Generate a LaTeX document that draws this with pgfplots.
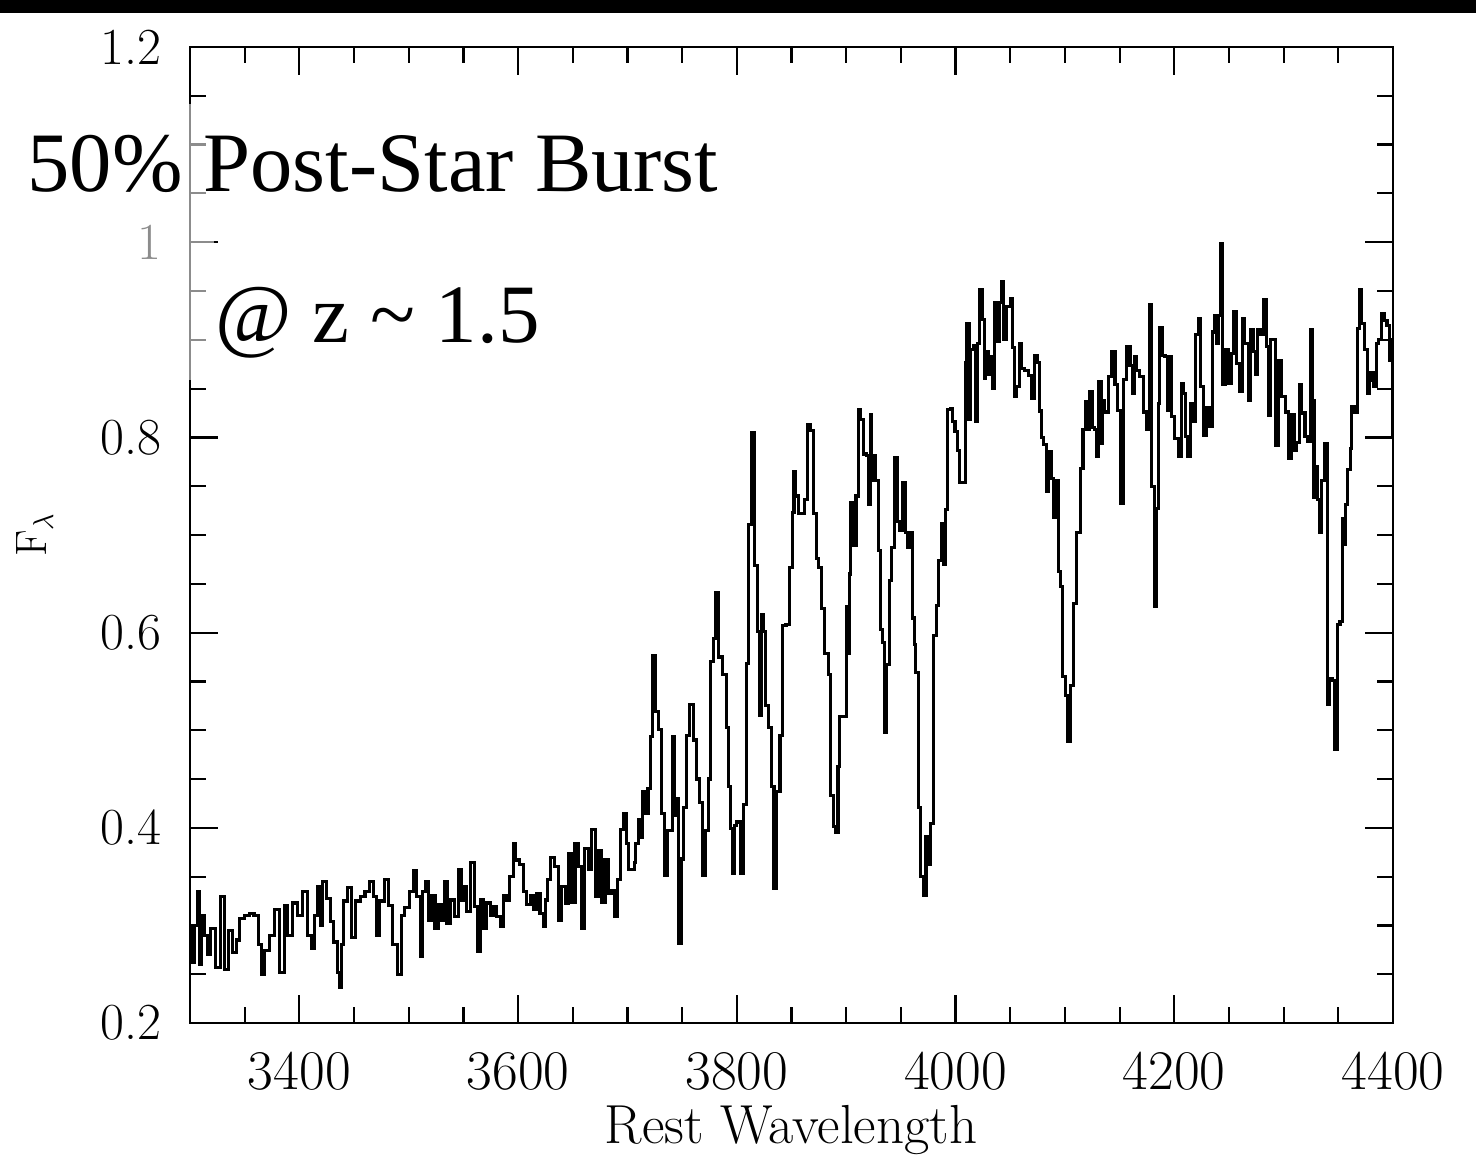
\documentclass[border=0pt]{standalone}
\usepackage{fontspec}
\usepackage{pgfplots}
\usepackage{pgfplotstable}
\pgfplotsset{compat=1.18}
\newfontfamily\timesfont{Liberation Serif}

\pgfplotstableread{
lam F
3300 0.270
3302 0.300
3303 0.262
3306 0.300
3308 0.335
3309.5 0.260
3312 0.310
3315 0.290
3317 0.270
3321 0.297
3326 0.257
3330 0.330
3333.5 0.255
3336.5 0.295
3341 0.272
3344 0.285
3347 0.307
3352 0.310
3356 0.312
3361 0.310
3364 0.280
3367 0.250
3370 0.274
3375 0.290
3379 0.316
3384 0.252
3388 0.320
3391 0.290
3396 0.323
3401 0.310
3405 0.335
3410 0.290
3411.5 0.276
3416 0.310
3418 0.340
3420 0.300
3423 0.345
3427 0.328
3430 0.304
3433 0.283
3436 0.252
3437.5 0.236
3439 0.280
3442 0.325
3446 0.339
3449 0.288
3454 0.325
3458 0.330
3462 0.335
3466 0.345
3469 0.330
3472 0.290
3475 0.325
3480 0.347
3483 0.320
3487 0.280
3492 0.250
3495 0.310
3498 0.318
3503 0.335
3506 0.356
3509 0.330
3512 0.268
3513.5 0.335
3516.5 0.345
3519.5 0.305
3522.5 0.331
3525.5 0.297
3528.5 0.321
3531.5 0.305
3533.5 0.345
3536.5 0.302
3539.5 0.326
3544 0.309
3547 0.357
3550 0.326
3551.5 0.340
3554.5 0.314
3559 0.364
3562 0.319
3564.5 0.273
3566.5 0.326
3570 0.297
3573 0.323
3576 0.310
3579 0.319
3582 0.309
3585 0.299
3588 0.331
3591 0.326
3594 0.350
3597 0.384
3599 0.367
3603 0.362
3606.5 0.335
3609.5 0.321
3612.5 0.331
3615.5 0.316
3618.5 0.333
3621.5 0.312
3624.5 0.299
3626 0.326
3628 0.347
3632 0.370
3635 0.360
3638.5 0.305
3641.5 0.340
3644.5 0.323
3647.5 0.374
3650.5 0.324
3653.5 0.384
3656.5 0.360
3659.5 0.297
3662.5 0.379
3666 0.357
3669 0.398
3672 0.330
3675 0.377
3678 0.324
3681 0.367
3684 0.333
3687 0.336
3690 0.309
3692 0.347
3695 0.398
3698 0.415
3699.5 0.384
3702.5 0.357
3705.5 0.357
3707 0.364
3708.5 0.384
3711 0.408
3713 0.390
3715 0.437
3717.5 0.415
3720 0.440
3722 0.494
3724.5 0.577
3726.5 0.519
3729.5 0.501
3732.5 0.415
3735 0.351
3737.5 0.397
3740.5 0.397
3742 0.494
3743.5 0.413
3745 0.430
3748 0.282
3750.5 0.368
3752.5 0.421
3755.5 0.495
3758.5 0.526
3761.5 0.490
3764.5 0.450
3768 0.426
3770 0.351
3772.5 0.397
3775 0.450
3777 0.570
3780 0.594
3782 0.641
3784.5 0.575
3789 0.557
3791.5 0.503
3793.5 0.442
3795.5 0.399
3797 0.353
3798.5 0.402
3801.5 0.406
3804.5 0.353
3807.5 0.424
3809.5 0.568
3812 0.711
3815 0.805
3817.5 0.669
3819.5 0.601
3822 0.515
3823.5 0.619
3825.5 0.601
3827.5 0.525
3830.5 0.503
3833 0.442
3835 0.338
3838 0.437
3841 0.495
3843 0.607
3847 0.608
3849.5 0.667
3851.5 0.723
3853 0.765
3855 0.740
3858 0.722
3861 0.722
3863 0.736
3865.5 0.813
3868.5 0.807
3871.5 0.722
3873.5 0.676
3876.5 0.667
3879 0.625
3882 0.579
3885 0.557
3887 0.433
3889 0.401
3891.5 0.395
3893.5 0.463
3895 0.514
3899 0.514
3901 0.627
3902 0.579
3903.5 0.660
3905 0.733
3908 0.689
3910 0.740
3912 0.829
3914 0.818
3917 0.783
3920 0.781
3921.2 0.731
3922.5 0.823
3924 0.756
3925.5 0.781
3928 0.756
3930.5 0.684
3932.5 0.603
3934 0.590
3935.5 0.498
3938.5 0.567
3940.5 0.653
3943 0.687
3945.5 0.779
3947.5 0.714
3950.5 0.705
3953 0.754
3955.5 0.703
3957 0.687
3960 0.703
3962 0.615
3963 0.588
3964.5 0.559
3967 0.421
3969 0.350
3972 0.331
3974 0.391
3975.5 0.362
3978 0.404
3981 0.597
3983.5 0.628
3986 0.674
3988.5 0.712
3990 0.670
3992 0.726
3994 0.829
3996.5 0.830
3998 0.816
4001 0.806
4002.5 0.787
4004 0.754
4008.5 0.754
4009.5 0.877
4011.5 0.917
4013 0.818
4015 0.890
4017.5 0.894
4019 0.816
4021 0.896
4023 0.951
4025.5 0.921
4027 0.860
4028.5 0.888
4031.5 0.865
4033 0.883
4034.5 0.850
4037 0.938
4039 0.898
4040.5 0.938
4043 0.960
4045 0.900
4048.5 0.934
4051.5 0.942
4053 0.892
4054.5 0.842
4057.5 0.852
4059.5 0.896
4061.5 0.871
4065 0.869
4068 0.863
4071 0.840
4073.5 0.884
4075.5 0.877
4078 0.827
4079.5 0.800
4082 0.793
4084 0.745
4086.5 0.785
4088.5 0.758
4090 0.718
4092.5 0.756
4095 0.663
4097 0.647
4099 0.555
4101.5 0.536
4104 0.488
4106 0.546
4109 0.630
4112 0.703
4113.5 0.703
4115.5 0.768
4117.5 0.808
4120 0.837
4121.5 0.808
4123.5 0.847
4126 0.810
4128 0.808
4129.5 0.780
4132.5 0.857
4134 0.794
4135 0.838
4138 0.826
4141.5 0.862
4144.5 0.888
4147 0.854
4149 0.828
4152 0.732
4155 0.859
4158 0.893
4161 0.874
4162.5 0.845
4164 0.883
4167 0.869
4170 0.862
4173.5 0.826
4176.5 0.808
4178.5 0.936
4180.5 0.750
4182.5 0.627
4184.5 0.727
4186 0.835
4187.5 0.913
4190 0.884
4193 0.883
4194.5 0.828
4196 0.883
4199 0.821
4202 0.799
4205.5 0.780
4207 0.855
4210 0.845
4211 0.801
4213 0.780
4216 0.835
4219 0.816
4220.5 0.905
4223.5 0.922
4225 0.852
4228 0.802
4231 0.831
4234 0.811
4236 0.908
4237.5 0.925
4240 0.896
4241 0.925
4243 0.999
4245 0.854
4248 0.890
4251 0.855
4253.5 0.886
4255.5 0.929
4258.5 0.876
4261 0.847
4263 0.922
4266 0.896
4269 0.838
4271 0.910
4274 0.888
4275 0.864
4277 0.910
4280 0.905
4283 0.941
4285 0.893
4287.5 0.823
4289 0.900
4291 0.900
4293.5 0.792
4296.5 0.879
4300 0.842
4303 0.826
4306 0.778
4308.5 0.823
4310.5 0.787
4313.5 0.795
4315 0.854
4318 0.825
4321 0.801
4323.5 0.796
4325.5 0.910
4327 0.838
4328.5 0.738
4330 0.770
4332 0.736
4333.5 0.703
4336.5 0.756
4339 0.794
4341 0.526
4343 0.553
4345.5 0.551
4347 0.480
4348.5 0.480
4350 0.608
4353 0.611
4354.5 0.717
4356 0.690
4357.5 0.731
4360 0.767
4361.5 0.789
4363 0.832
4367 0.826
4368.5 0.912
4370.5 0.951
4372.5 0.917
4375.5 0.890
4377.5 0.845
4379 0.858
4380.5 0.866
4383.5 0.852
4386 0.896
4388 0.900
4390.5 0.927
4393 0.920
4396 0.915
4397.5 0.879
4399 0.900
4400 0.800
}\spectrum

\begin{document}
\begin{tikzpicture}[x=1pt,y=1pt]
\begin{axis}[
  at={(95pt,75.5pt)}, anchor=south west,
  scale only axis, width=601.5pt, height=488pt,
  xmin=3300, xmax=4400, ymin=0.2, ymax=1.2,
  xtick={3400,3600,3800,4000,4200,4400},
  xticklabels={3400,3600,3800,4000,4200,4400},
  minor xtick={3300,3350,3400,3450,3500,3550,3600,3650,3700,3750,3800,3850,3900,3950,4000,4050,4100,4150,4200,4250,4300,4350,4400},
  ytick={0.2,0.4,0.6,0.8,1.0,1.2},
  yticklabels={0.2,0.4,0.6,0.8,1,1.2},
  minor ytick={0.25,0.3,0.35,0.45,0.5,0.55,0.65,0.7,0.75,0.85,0.9,0.95,1.05,1.1,1.15},
  tick align=inside, tick pos=both,
  major tick length=14pt, minor tick length=8pt,
  every tick/.style={black, line width=1.1pt},
  axis line style={line width=1.4pt},
  x tick label style={font=\fontsize{28}{30}\selectfont, inner sep=0pt, yshift=-14.5pt},
  y tick label style={font=\fontsize{26}{28}\selectfont, inner sep=0pt, xshift=-14pt},
  xticklabel pos=lower, yticklabel pos=left,
]
\addplot[const plot mark mid, black, line width=1.55pt] table[x=lam, y=F] {\spectrum};
\end{axis}
\fill[white, opacity=0.55] (65pt,397pt) rectangle (107pt,535pt);
\fill[black] (0pt,580.5pt) rectangle (738pt,587pt);
\node[anchor=base west, inner sep=0pt, font=\timesfont\fontsize{42.3}{50}\selectfont] at (13.5pt,491pt) {50\% Post-Star Burst};
\node[anchor=base west, inner sep=0pt, font=\timesfont\fontsize{41.5}{50}\selectfont] at (107.5pt,415.5pt) {@ z \textasciitilde{} 1.5};
\node[rotate=90, inner sep=0pt, font=\fontsize{22}{24}\selectfont] at (17.5pt,319.5pt) {F$_\lambda$};
\node[anchor=base, inner sep=0pt, font=\fontsize{27.5}{30}\selectfont] at (395.5pt,15.5pt) {Rest Wavelength};
\pgfresetboundingbox
\path[use as bounding box] (0pt,0pt) rectangle (738pt,587pt);
\end{tikzpicture}
\end{document}
